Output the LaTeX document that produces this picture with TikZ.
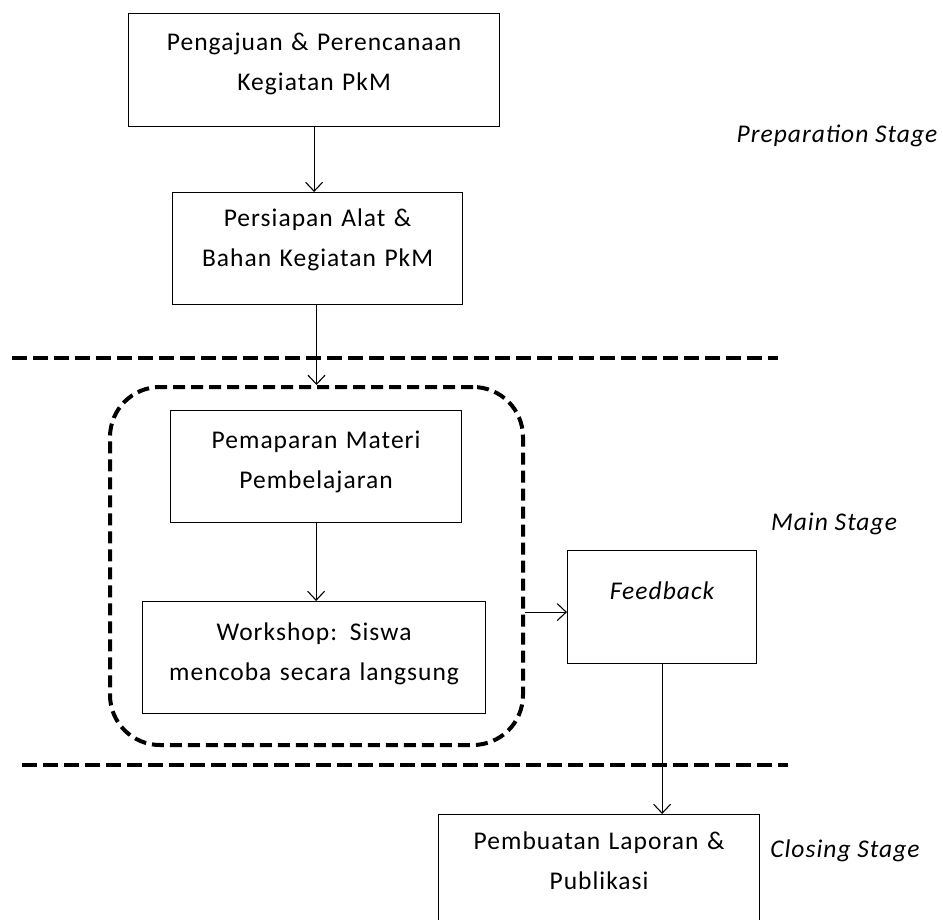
\documentclass[tikz,border=0pt]{standalone}
\usepackage{fontspec}
\setmainfont{Carlito}[LetterSpace=4]
\usetikzlibrary{arrows.meta}
\begin{document}
\begin{tikzpicture}[x=1pt, y=-1pt,
  every node/.style={font=\fontsize{25.5}{39.5}\selectfont},
  box/.style={draw, line width=1.2pt, inner sep=0pt, align=center, anchor=north west},
  grp/.style={draw, line width=4pt, dash pattern=on 12pt off 6pt, rounded corners=50pt, inner sep=0pt, anchor=north west},
  flow/.style={line width=1.1pt, -{Straight Barb[length=9pt,width=17pt,line width=1.1pt]}},
  sep/.style={line width=4.5pt, dash pattern=on 15pt off 6pt},
  stage/.style={font=\fontsize{25.5}{30}\selectfont\itshape, anchor=base}]
\useasboundingbox (0,0) rectangle (943,920);

% preparation
\node[box, text width=371pt, text height=37pt, text depth=76pt] (plan) at (128,13)
  {Pengajuan \& Perencanaan\\Kegiatan PkM};
\node[box, text width=290pt, text height=34pt, text depth=78pt] (tools) at (172,192)
  {Persiapan Alat \&\\Bahan Kegiatan PkM};

% main
\node[grp, minimum width=413pt, minimum height=358pt] (main) at (108,385) {};
\node[box, text width=291pt, text height=38pt, text depth=74pt] (talk) at (170,410)
  {Pemaparan Materi\\Pembelajaran};
\node[box, text width=343pt, text height=39pt, text depth=73pt] (work) at (142,601)
  {Workshop: Siswa\\mencoba secara langsung};
\node[box, text width=189pt, text height=49pt, text depth=64pt] (fb) at (567,550)
  {\itshape Feedback};

% closing
\node[box, text width=321pt, text height=35pt, text depth=80pt] (report) at (438,814)
  {Pembuatan Laporan \&\\Publikasi};

% stages
\node[stage] (s1) at (837,143) {Preparation Stage};
\node[stage] (s2) at (834,530) {Main Stage};
\node[stage] (s3) at (845,857) {Closing Stage};

% separators
\coordinate (a1) at (12,358);
\coordinate (a2) at (778,358);
\coordinate (b1) at (22,765);
\coordinate (b2) at (788,765);
\draw[sep] (a1) -- (a2);
\draw[sep] (b1) -- (b2);

\draw[flow] (plan.south) -- (tools.north -| plan.south);
\draw[flow] (tools.south -| main.north) -- (main.north);
\draw[flow] (talk.south) -- (work.north -| talk.south);
\draw[flow] ([yshift=-5pt]main.east |- fb.west) -- ([yshift=-5pt]fb.west);
\draw[flow] (fb.south) -- (report.north -| fb.south);
\end{tikzpicture}
\end{document}
